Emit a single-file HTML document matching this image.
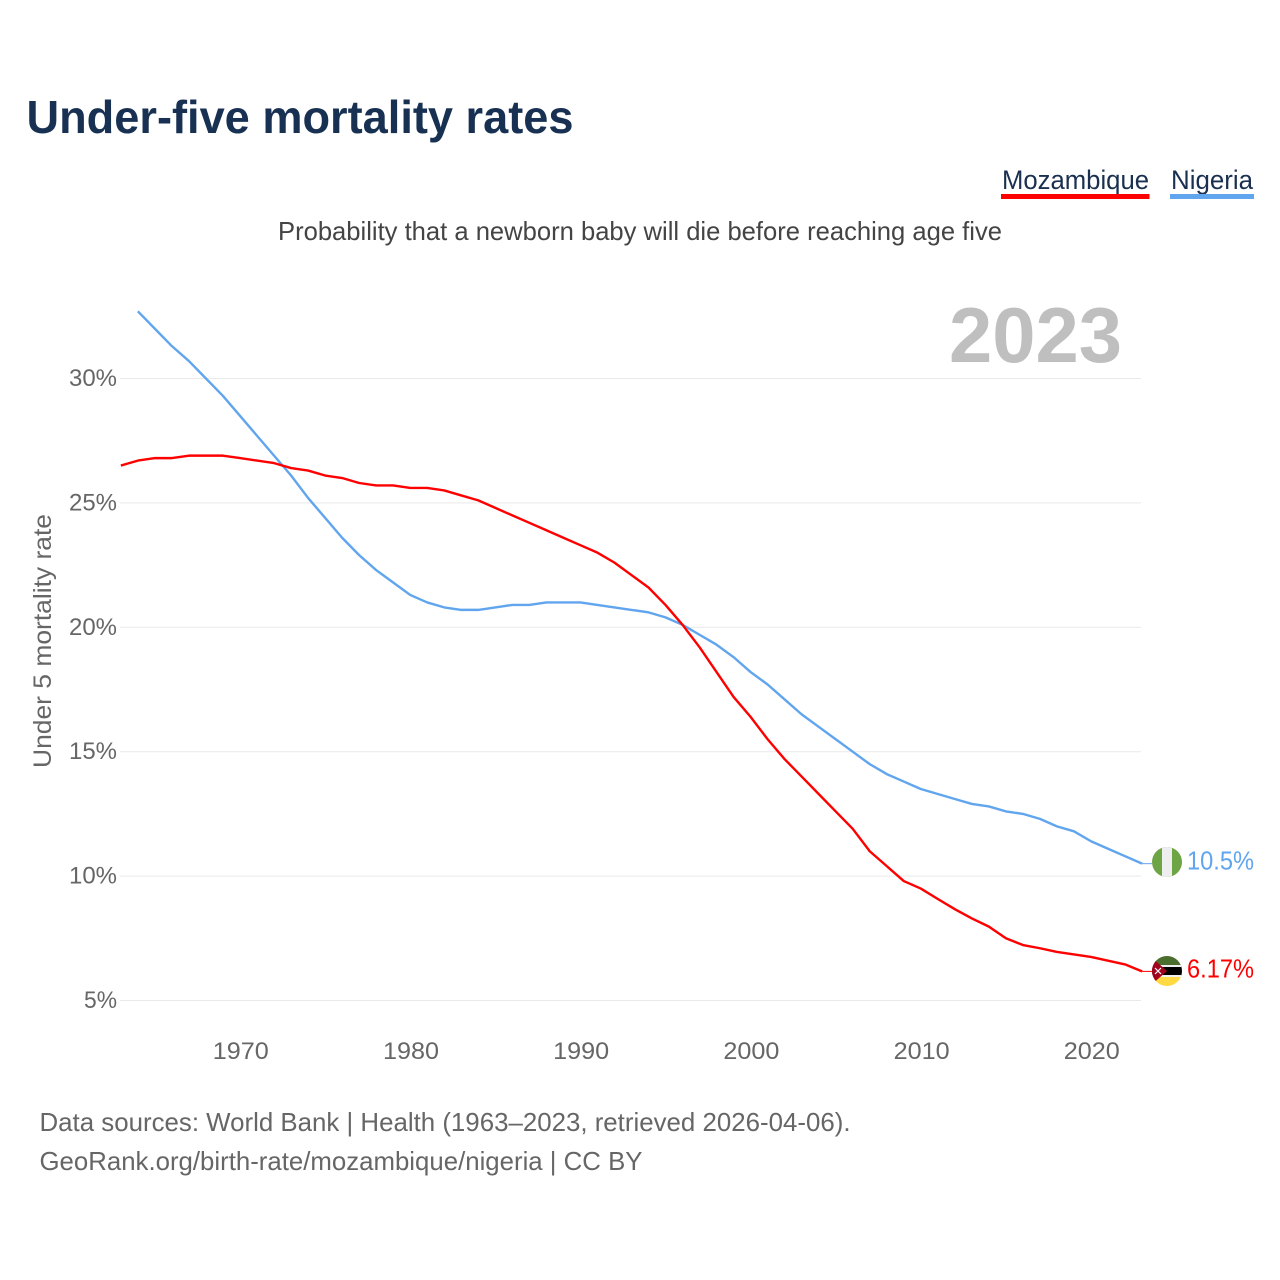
<!DOCTYPE html>
<html lang="en">
<head>
<meta charset="utf-8">
<title>Under-five mortality rates</title>
<style>
html,body{margin:0;padding:0;background:#fff;width:1280px;height:1280px;overflow:hidden}
svg{display:block}
text{font-family:"Liberation Sans",sans-serif}
</style>
</head>
<body>
<svg id="chart" xmlns="http://www.w3.org/2000/svg" width="1280" height="1280" viewBox="0 0 1280 1280">
  <rect x="0" y="0" width="1280" height="1280" fill="#fff"/>
  <text x="26.500" y="133" font-size="46" font-weight="700" fill="#183153" textLength="547" lengthAdjust="spacingAndGlyphs">Under-five mortality rates</text>
  <text x="278" y="240" font-size="26" fill="#444" textLength="724" lengthAdjust="spacingAndGlyphs">Probability that a newborn baby will die before reaching age five</text>

  <g>
    <text x="1002" y="189" font-size="27" fill="#1a3050" textLength="147" lengthAdjust="spacingAndGlyphs">Mozambique</text>
    <rect x="1001" y="194" width="148.500" height="5" fill="#ff0000"/>
  </g>
  <g>
    <text x="1171" y="189" font-size="27" fill="#1a3050" textLength="82" lengthAdjust="spacingAndGlyphs">Nigeria</text>
    <rect x="1170" y="194" width="84" height="5" fill="#60a5ee"/>
  </g>

  <g id="grid"></g>
  <g id="yticks"></g>
  <g id="xticks"></g>

  <text x="949" y="362" font-size="78" font-weight="700" fill="#bfbfbf" textLength="173" lengthAdjust="spacingAndGlyphs">2023</text>
  <text transform="translate(51 768) rotate(-90)" x="0" y="0" font-size="25" fill="#666" textLength="254" lengthAdjust="spacingAndGlyphs">Under 5 mortality rate</text>

  <g id="series"></g>

  <defs>
    <clipPath id="flag-clip-ng"><circle cx="1167" cy="862" r="15"/></clipPath>
    <clipPath id="flag-clip-mz"><circle cx="1167" cy="971" r="15"/></clipPath>
  </defs>
  <g clip-path="url(#flag-clip-ng)">
    <rect x="1152" y="847" width="30" height="30" fill="#6da544"/>
    <rect x="1162" y="847" width="10" height="30" fill="#eeeeee"/>
  </g>
  <g clip-path="url(#flag-clip-mz)">
    <rect x="1152" y="956" width="30" height="11" fill="#496e2d"/>
    <rect x="1152" y="966" width="30" height="10" fill="#000"/>
    <rect x="1152" y="965" width="30" height="2" fill="#f0f0f0"/>
    <rect x="1152" y="975" width="30" height="2" fill="#f0f0f0"/>
    <rect x="1152" y="977" width="30" height="10" fill="#ffda44"/>
    <polygon points="1150,956 1167,971 1150,986" fill="#a2001d"/>
    <path d="M1155 968 l6 6 M1161 968 l-6 6" stroke="#fff" stroke-width="1.200"/>
  </g>
  <text x="1187" y="869.500" font-size="26" fill="#60a5ee" textLength="67" lengthAdjust="spacingAndGlyphs">10.5%</text>
  <text x="1187" y="977.500" font-size="26" fill="#ff0000" textLength="67" lengthAdjust="spacingAndGlyphs">6.17%</text>

  <text x="39.500" y="1131" font-size="26" fill="#666" textLength="811" lengthAdjust="spacingAndGlyphs">Data sources: World Bank | Health (1963–2023, retrieved 2026-04-06).</text>
  <text x="39.500" y="1170" font-size="26" fill="#666" textLength="603" lengthAdjust="spacingAndGlyphs">GeoRank.org/birth-rate/mozambique/nigeria | CC BY</text>
</svg>
<script>
const mozambiqueStartYear = 1963;
const mozambiqueValues = [26.5,26.7,26.8,26.8,26.9,26.9,26.9,26.8,26.7,26.6,26.4,26.3,26.1,26.0,25.8,25.7,25.7,25.6,25.6,25.5,25.3,25.1,24.8,24.5,24.2,23.9,23.6,23.3,23.0,22.6,22.1,21.6,20.9,20.1,19.2,18.2,17.2,16.4,15.5,14.7,14.0,13.3,12.6,11.9,11.0,10.4,9.8,9.5,9.08,8.67,8.3,7.97,7.5,7.23,7.1,6.95,6.85,6.75,6.6,6.45,6.17];
const nigeriaStartYear = 1964;
const nigeriaValues = [32.7,32.0,31.3,30.7,30.0,29.3,28.5,27.7,26.9,26.1,25.2,24.4,23.6,22.9,22.3,21.8,21.3,21.0,20.8,20.7,20.7,20.8,20.9,20.9,21.0,21.0,21.0,20.9,20.8,20.7,20.6,20.4,20.1,19.7,19.3,18.8,18.2,17.7,17.1,16.5,16.0,15.5,15.0,14.5,14.1,13.8,13.5,13.3,13.1,12.9,12.8,12.6,12.5,12.3,12.0,11.8,11.4,11.1,10.8,10.5];
const yTickValues = [5,10,15,20,25,30];
const xTickYears = [1970,1980,1990,2000,2010,2020];

const NS = 'http://www.w3.org/2000/svg';
function xScale(year) { return 240 + (year - 1970) * 17.02; }
function yScale(value) { return 1000.5 - (value - 5) * 24.88; }
function make(tag, attrs, parent) {
  const el = document.createElementNS(NS, tag);
  for (const k in attrs) el.setAttribute(k, attrs[k]);
  parent.appendChild(el);
  return el;
}

const grid = document.getElementById('grid');
const yticks = document.getElementById('yticks');
yTickValues.forEach(function (v) {
  const gy = yScale(v);
  const line = make('line', {x1: 120, x2: 1141, y1: gy, y2: gy, stroke: '#e9e9e9', 'stroke-width': 1}, grid);
  
  
  const label = make('text', {x: 117, y: yScale(v) + 7.5, 'text-anchor': 'end', 'font-size': 24, fill: '#666', textLength: v < 10 ? 33 : 48, lengthAdjust: 'spacingAndGlyphs'}, yticks);
  label.textContent = v + '%';
  
  
});

const xticks = document.getElementById('xticks');
xTickYears.forEach(function (y) {
  const label = make('text', {x: xScale(y) + 0.8, y: 1059, 'text-anchor': 'middle', 'font-size': 24.5, fill: '#666', textLength: 56, lengthAdjust: 'spacingAndGlyphs'}, xticks);
  label.textContent = String(y);
  
  
});

function linePoints(values, startYear) {
  return values.map(function (v, i) {
    return xScale(startYear + i).toFixed(2) + ',' + yScale(v).toFixed(2);
  });
}
const series = document.getElementById('series');

const nigeriaLine = make('polyline', {points: linePoints(nigeriaValues, nigeriaStartYear).join(' '), fill: 'none', stroke: '#60a5ee', 'stroke-width': 2.4, 'stroke-linejoin': 'round'}, series);



const mozambiqueLine = make('polyline', {points: linePoints(mozambiqueValues, mozambiqueStartYear).join(' '), fill: 'none', stroke: '#ff0000', 'stroke-width': 2.4, 'stroke-linejoin': 'round'}, series);



const nigeriaLast = nigeriaValues[nigeriaValues.length - 1];
const nigeriaConnector = make('line', {x1: xScale(2023), x2: 1152, y1: yScale(nigeriaLast), y2: yScale(nigeriaLast), stroke: '#60a5ee', 'stroke-width': 1}, series);



const mozambiqueLast = mozambiqueValues[mozambiqueValues.length - 1];
const mozambiqueConnector = make('line', {x1: xScale(2023), x2: 1152, y1: yScale(mozambiqueLast), y2: yScale(mozambiqueLast), stroke: '#ff0000', 'stroke-width': 1}, series);


</script>
</body>
</html>
